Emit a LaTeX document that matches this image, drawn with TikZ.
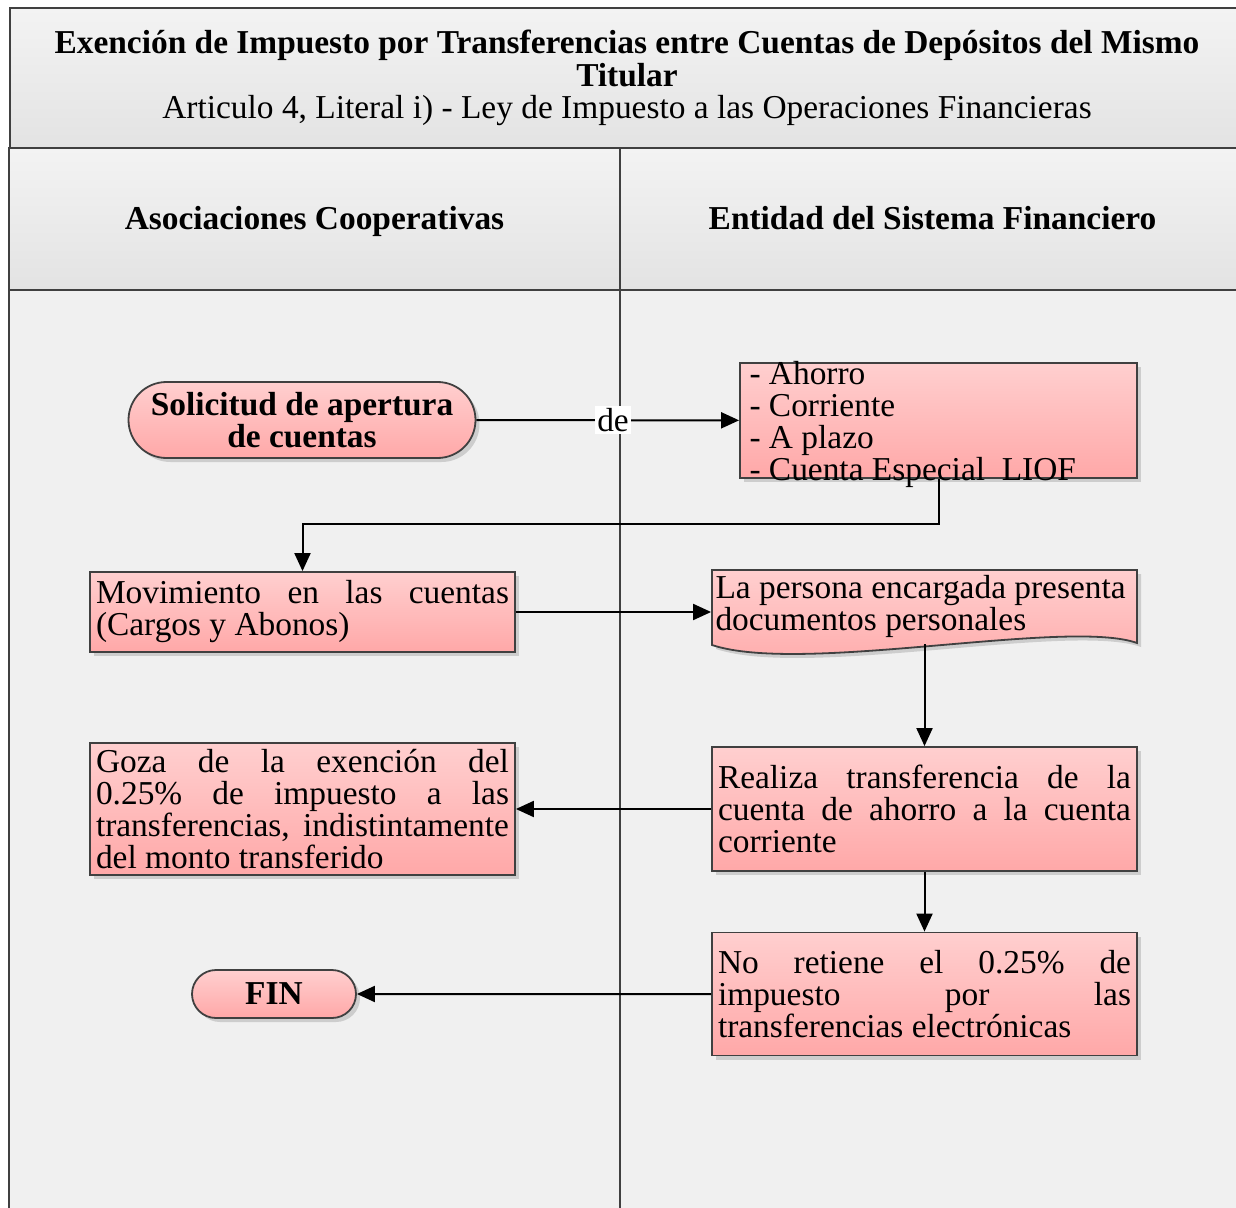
\documentclass[tikz,border=0pt]{standalone}
\usepackage{fontspec}
\setmainfont{Liberation Serif}
\usetikzlibrary{arrows.meta,positioning,shapes.misc,shadows}

\definecolor{lanegray}{HTML}{F0F0F0}
\definecolor{headtop}{HTML}{F3F3F3}
\definecolor{headbot}{HTML}{E3E3E3}
\definecolor{boxtop}{HTML}{FFCFCF}
\definecolor{boxbot}{HTML}{FFA8A8}
\definecolor{edge}{HTML}{404040}

\begin{document}
\begin{tikzpicture}[
		x=0.5pt, y=-0.5pt,
		>={Triangle[length=9pt,width=8pt]},
		every node/.style={font=\fontsize{16.7}{16}\selectfont},
		boxshadow/.style={drop shadow={shadow xshift=2pt,shadow yshift=-2pt,opacity=0.25,fill=black!60}},
		lanebody/.style={draw=edge,line width=1pt,fill=lanegray},
		titlebox/.style={rectangle,draw=edge,line width=1pt,top color=headtop,bottom color=headbot,
			minimum width=615.5pt,minimum height=70pt,text width=610pt,align=flush center,
			font=\fontsize{16.7}{16.4}\selectfont},
		lanehead/.style={rectangle,draw=edge,line width=1pt,top color=headtop,bottom color=headbot,
			minimum height=71pt,text height=12.5pt,text depth=1.5pt,
			font=\fontsize{16.7}{16}\selectfont\bfseries},
		boxfill/.style={rectangle,draw=edge,line width=0.9pt,top color=boxtop,bottom color=boxbot,boxshadow},
		proc/.style={boxfill,minimum width=212.5pt,text width=206.5pt,inner sep=3pt,align=justify},
		term/.style={rounded rectangle,draw=edge,line width=0.9pt,top color=boxtop,bottom color=boxbot,
			boxshadow,align=center,inner sep=2pt,font=\fontsize{16.7}{16}\selectfont\bfseries},
		link/.style={draw,->,line width=1pt}
		]
		\useasboundingbox (0,0) rectangle (1236,1208);

		% ---- lanes ----
		\draw[lanebody] (9,290) rectangle (620,1215);
		\draw[lanebody] (620,290) rectangle (1245,1215);

		\node[titlebox] (title) at (627,78)
			{\textbf{Exención de Impuesto por Transferencias entre Cuentas de Depósitos del Mismo\\Titular}\\
			Articulo 4, Literal i) - Ley de Impuesto a las Operaciones Financieras};
		\node[lanehead,minimum width=305.5pt] (laneA) at (314.5,219) {Asociaciones Cooperativas};
		\node[lanehead,minimum width=312.5pt] (laneB) at (932.5,219) {Entidad del Sistema Financiero};

		% ---- Asociaciones Cooperativas ----
		\node[term,minimum width=177.5pt,minimum height=38pt] (start) at (302,420)
			{Solicitud de apertura\\de cuentas};
		\node[proc,minimum height=40pt] (mov) at (302.5,612)
			{Movimiento en las cuentas (Cargos y Abonos)};
		\node[proc,minimum height=62pt] (goza) at (302.5,809)
			{Goza de la exención del\linebreak 0.25\% de impuesto a las\linebreak
			transferencias, indistintamente\linebreak del monto transferido};
		\node[term,minimum width=86pt,minimum height=24pt] (fin) at (274,994) {FIN};

		% ---- Entidad del Sistema Financiero ----
		\node[boxfill,minimum width=198.5pt,minimum height=57.5pt,inner sep=0pt] (cuentas) at (938.5,420.5)
			{\parbox[c][50pt][c]{189pt}{\vspace*{4pt}- Ahorro\\- Corriente\\- A plazo\\- Cuenta Especial\ \ LIOF}};

		% document shape (wavy bottom) drawn under its text
		\path[draw=edge,line width=0.9pt,top color=boxtop,bottom color=boxbot,boxshadow]
			(712,570) -- (1137,570) -- (1137,643)
			.. controls (1067,618) and (802,675) .. (712,645) -- cycle;
		\node[text width=209pt,inner xsep=2pt,inner ysep=3pt,anchor=north,align=flush left] (doc) at (924.5,569)
			{La persona encargada presenta\\documentos personales};

		\node[proc,minimum height=62pt] (realiza) at (924.5,809)
			{Realiza transferencia de la\linebreak cuenta de ahorro a la cuenta\linebreak corriente};
		\node[proc,minimum height=61.5pt] (noret) at (924.5,994)
			{No retiene el 0.25\% de\linebreak impuesto por las\linebreak transferencias electrónicas};

		% ---- connectors ----
		\draw[link] (start) -- node[pos=0.52,fill=white,inner sep=1pt] (de) {de} (cuentas);
		\draw[link] (cuentas.south) -- ++(0,45) -| (mov.north);
		\draw[link] (mov.east) -- (mov.east -| doc.west);
		\draw[link] (doc) -- (realiza);
		\draw[link] (realiza) -- (goza);
		\draw[link] (realiza) -- (noret);
		\draw[link] (noret) -- (fin);
	\end{tikzpicture}
\end{document}
